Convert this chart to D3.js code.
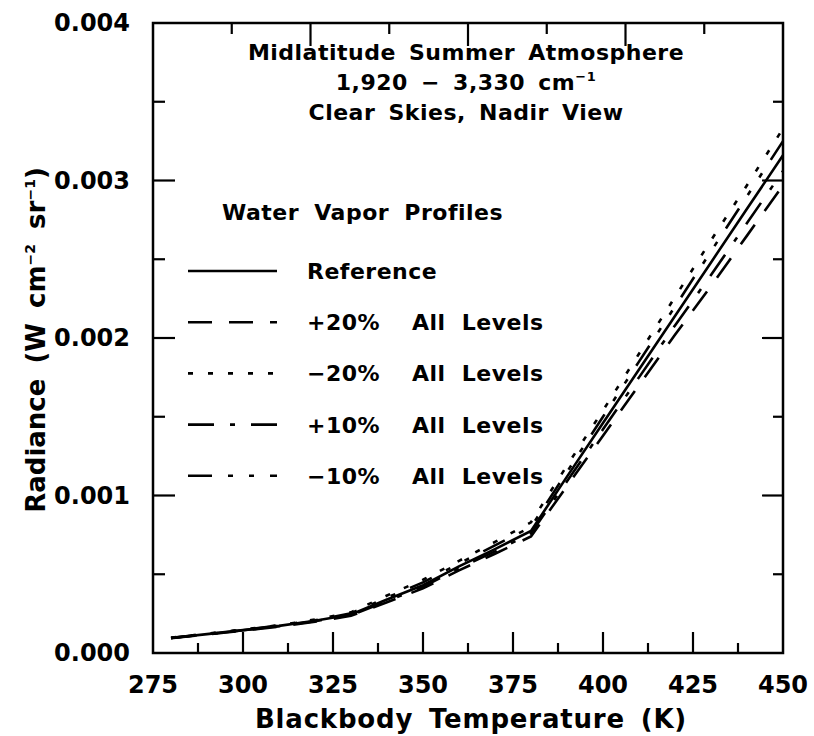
<!DOCTYPE html>
<html>
<head>
<meta charset="utf-8">
<script src="https://cdn.jsdelivr.net/npm/d3@7"></script>
<style>
  body { margin: 0; background: #fff; }
  text { font-family: "DejaVu Sans", sans-serif; font-weight: bold; fill: #000; }
</style>
</head>
<body>
<script>
// Size of the whole picture
var W = 814;
var H = 736;

// Plot frame inside the picture
var margin = {top: 23, right: 31, bottom: 83, left: 153};
var w = W - margin.left - margin.right;
var h = H - margin.top - margin.bottom;

// Blackbody temperatures (K) where the curves were read
var temps = [280, 290, 300, 310, 320, 330, 340, 350, 360, 370, 380, 390, 400, 410, 420, 430, 440, 450];

// Radiance (W cm-2 sr-1) for each water vapor profile
var reference = [0.000095, 0.000120, 0.000145, 0.000172, 0.000205, 0.000245, 0.000340, 0.000430, 0.000550, 0.000660, 0.000775,
                 0.001120, 0.001460, 0.001800, 0.002140, 0.002480, 0.002820, 0.003160];
var plus20 = [0.000094, 0.000118, 0.000142, 0.000168, 0.000199, 0.000236, 0.000322, 0.000410, 0.000525, 0.000630, 0.000740,
              0.001060, 0.001380, 0.001700, 0.002020, 0.002330, 0.002650, 0.002970];
var minus20 = [0.000097, 0.000123, 0.000149, 0.000177, 0.000212, 0.000258, 0.000365, 0.000465, 0.000585, 0.000705, 0.000830,
               0.001190, 0.001540, 0.001900, 0.002260, 0.002620, 0.002970, 0.003330];
var plus10 = [0.000095, 0.000119, 0.000144, 0.000170, 0.000202, 0.000240, 0.000330, 0.000420, 0.000538, 0.000645, 0.000760,
              0.001090, 0.001420, 0.001750, 0.002080, 0.002400, 0.002730, 0.003060];
var minus10 = [0.000096, 0.000121, 0.000147, 0.000174, 0.000208, 0.000252, 0.000352, 0.000448, 0.000568, 0.000683, 0.000800,
               0.001150, 0.001500, 0.001850, 0.002200, 0.002550, 0.002900, 0.003250];

// Legend labels
var legendNames = ["Reference", "+20%", "\u221220%", "+10%", "\u221210%"];

// Tick values
var xTicks = [275, 300, 325, 350, 375, 400, 425, 450];
var yTicks = [0.000, 0.001, 0.002, 0.003, 0.004];
var topTicks = [1, 2, 3, 4, 5, 6, 7];

// Each series with its dash pattern
var series = [
  {name: legendNames[0], values: reference, dash: null},
  {name: legendNames[1], values: plus20, dash: "24,17"},
  {name: legendNames[2], values: minus20, dash: "5,15"},
  {name: legendNames[3], values: plus10, dash: "26,16,5,16"},
  {name: legendNames[4], values: minus10, dash: "24,16,5,16,5,16"}
];

var xScale = d3.scaleLinear().domain([275, 450]).range([0, w]);
var yScale = d3.scaleLinear().domain([0, 0.004]).range([h, 0]);
// the top edge has its own evenly spaced marks
var topScale = d3.scaleLinear().domain([0, 8]).range([0, w]);

var svg = d3.select("body").append("svg")
    .attr("width", W)
    .attr("height", H);

var g = svg.append("g")
    .attr("transform", "translate(" + margin.left + "," + margin.top + ")");

// Frame
g.append("rect")
    .attr("width", w)
    .attr("height", h)
    .attr("fill", "none")
    .attr("stroke", "#000")
    .attr("stroke-width", 2.5);

// Major and minor ticks, drawn inward on each side
function isMajor(v, step) {
  return Math.abs(v / step - Math.round(v / step)) < 1e-6;
}
var xMinor = d3.range(275, 450.1, 12.5);
var yMinor = d3.range(0, 0.00401, 0.0005);

g.selectAll(".xtick").data(xMinor.slice(1, -1)).enter().append("line")
    .attr("x1", function(d) { return xScale(d); })
    .attr("x2", function(d) { return xScale(d); })
    .attr("y1", h)
    .attr("y2", function(d) { return h - (isMajor(d - 275, 25) ? 21 : 10); })
    .attr("stroke", "#000").attr("stroke-width", 2.2);

g.selectAll(".ytick").data(yMinor.slice(1, -1)).enter().append("line")
    .attr("x1", 0)
    .attr("x2", function(d) { return isMajor(d, 0.001) ? 22 : 12; })
    .attr("y1", function(d) { return yScale(d); })
    .attr("y2", function(d) { return yScale(d); })
    .attr("stroke", "#000").attr("stroke-width", 2.2);

g.selectAll(".rtick").data(yMinor.slice(1, -1)).enter().append("line")
    .attr("x1", w)
    .attr("x2", function(d) { return w - (isMajor(d, 0.001) ? 21 : 10); })
    .attr("y1", function(d) { return yScale(d); })
    .attr("y2", function(d) { return yScale(d); })
    .attr("stroke", "#000").attr("stroke-width", 2.2);

g.selectAll(".ttick").data(topTicks).enter().append("line")
    .attr("x1", function(d) { return topScale(d); })
    .attr("x2", function(d) { return topScale(d); })
    .attr("y1", 0)
    .attr("y2", function(d) { return d % 2 === 0 ? 23 : 11; })
    .attr("stroke", "#000").attr("stroke-width", 2.2);

// Tick labels
g.selectAll(".xlab").data(xTicks).enter().append("text")
    .attr("x", function(d) { return xScale(d); })
    .attr("y", h + 40)
    .attr("text-anchor", "middle")
    .attr("font-size", "24px")
    .text(function(d) { return d; });

g.selectAll(".ylab").data(yTicks).enter().append("text")
    .attr("x", -23)
    .attr("y", function(d) { return yScale(d) + 8; })
    .attr("text-anchor", "end")
    .attr("font-size", "24px")
    .text(function(d) { return d3.format(".3f")(d); });

// Axis titles
svg.append("text")
    .attr("x", margin.left + w / 2 + 3)
    .attr("y", 728)
    .attr("text-anchor", "middle")
    .attr("font-size", "26px")
    .attr("letter-spacing", "0.8px")
    .attr("word-spacing", "6px")
    .text("Blackbody Temperature (K)");

var ylab = svg.append("text")
    .attr("transform", "translate(45," + (margin.top + h / 2 + 2) + ") rotate(-90)")
    .attr("text-anchor", "middle")
    .attr("font-size", "26px")
    .attr("word-spacing", "6px");
ylab.append("tspan").text("Radiance (W cm");
ylab.append("tspan").attr("dy", -10).attr("font-size", "14px").text("\u22122");
ylab.append("tspan").attr("dy", 10).text(" sr");
ylab.append("tspan").attr("dy", -10).attr("font-size", "14px").text("\u22121");
ylab.append("tspan").attr("dy", 10).text(")");

// Curves
var line = d3.line()
    .x(function(d, i) { return xScale(temps[i]); })
    .y(function(d) { return yScale(d); });

g.selectAll(".curve").data(series).enter().append("path")
    .attr("d", function(d) { return line(d.values); })
    .attr("fill", "none")
    .attr("stroke", "#000")
    .attr("stroke-width", 2.6)
    .attr("stroke-dasharray", function(d) { return d.dash; });

// Annotation block
var notes = ["Midlatitude Summer Atmosphere", "1,920 \u2212 3,330 cm", "Clear Skies, Nadir View"];
g.selectAll(".note").data(notes).enter().append("text")
    .attr("x", 313)
    .attr("y", function(d, i) { return 37 + i * 30; })
    .attr("text-anchor", "middle")
    .attr("font-size", "22px")
    .attr("letter-spacing", "0.5px")
    .attr("word-spacing", "5px")
    .text(function(d) { return d; })
    .filter(function(d, i) { return i === 1; })
    .append("tspan").attr("dy", -9).attr("font-size", "13px").text("\u22121");

// Legend
g.append("text")
    .attr("x", 69)
    .attr("y", 197)
    .attr("font-size", "22px")
    .attr("letter-spacing", "0.5px")
    .attr("word-spacing", "7px")
    .text("Water Vapor Profiles");

var leg = g.selectAll(".leg").data(series).enter().append("g")
    .attr("transform", function(d, i) { return "translate(0," + (248 + i * 51.2) + ")"; });

leg.append("line")
    .attr("x1", 35).attr("x2", 124)
    .attr("stroke", "#000")
    .attr("stroke-width", 2.6)
    .attr("stroke-dasharray", function(d) { return d.dash; });

leg.append("text")
    .attr("x", 154)
    .attr("y", 8)
    .attr("font-size", "22px")
    .attr("letter-spacing", "0.5px")
    .text(function(d) { return d.name; });

leg.filter(function(d, i) { return i > 0; }).append("text")
    .attr("x", 259)
    .attr("y", 8)
    .attr("font-size", "22px")
    .attr("letter-spacing", "0.5px")
    .attr("word-spacing", "8px")
    .text("All Levels");
</script>
</body>
</html>
